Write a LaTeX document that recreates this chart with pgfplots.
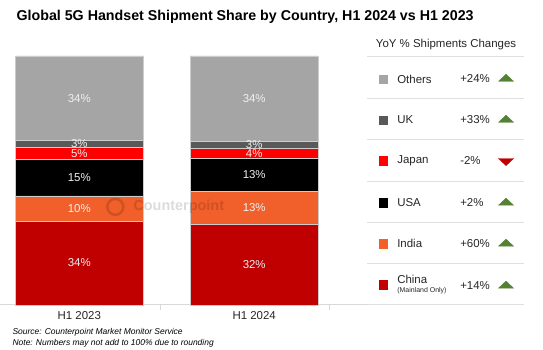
\documentclass[border=0pt]{standalone}
\usepackage{pgfplots}
\pgfplotsset{compat=1.18}
\usepackage{pgfplotstable}
\usepackage{fontspec}
\setmainfont{Liberation Sans}
\definecolor{cOthers}{HTML}{A5A5A5}
\definecolor{cUK}{HTML}{595959}
\definecolor{cJapan}{HTML}{FF0000}
\definecolor{cUSA}{HTML}{000000}
\definecolor{cIndia}{HTML}{F15F2A}
\definecolor{cChina}{HTML}{C00000}
\definecolor{cUp}{HTML}{548235}
\definecolor{cDown}{HTML}{C00000}
\definecolor{txt}{HTML}{262626}

\pgfplotstableread{
cat china india usa japan uk others
0 33.6 10.2 14.6 4.8 2.8 34.0
1 32.2 13.4 13.2 4.0 2.8 34.4
}\shares

\tikzset{lg/.style={font=\fontsize{11.5}{13}\selectfont, text=txt, inner sep=0pt}}

\begin{document}
\begin{tikzpicture}
\path (0bp,0bp) rectangle (543bp,-350bp);
\node[anchor=west, font=\bfseries\fontsize{14.3}{16}\selectfont, text=black, inner sep=0pt] at (16bp,-17bp) {Global 5G Handset Shipment Share by Country, H1 2024 vs H1 2023};
\begin{axis}[
  at={(0bp,-305bp)}, anchor=south west,
  scale only axis, width=505bp, height=249bp,
  xmin=-0.4514, xmax=2.4343, ymin=0, ymax=100,
  ybar stacked, bar width=128bp,
  axis x line=bottom, axis y line=none,
  x axis line style={-, draw=black!15, line width=0.8pt},
  xtick={0,1}, xticklabels={H1 2023,H1 2024}, major tick length=0pt,
  minor xtick={0.4629,1.4286}, minor tick length=5bp, tick align=outside,
  minor tick style={draw=black!15, line width=0.8pt},
  xticklabel style={font=\fontsize{11.5}{13}\selectfont, text=txt, yshift=-3bp},
  /pgf/number format/assume math mode=true,
  clip=false,
  seg/.style={visualization depends on={\thisrow{#1} \as \segval},
    nodes near coords={\pgfmathprintnumber[fixed,precision=0]{\segval}\%},
    every node near coord/.style={anchor=center, font=\fontsize{11.5}{13}\selectfont, text=white!94!black, inner sep=0pt}},
]
\addplot[fill=cChina, draw=white!80!black, line width=0.5pt, seg=china] table[x=cat,y=china]{\shares};
\addplot[fill=cIndia, draw=white!80!black, line width=0.5pt, seg=india] table[x=cat,y=india]{\shares};
\addplot[fill=cUSA, draw=white!80!black, line width=0.5pt, seg=usa] table[x=cat,y=usa]{\shares};
\addplot[fill=cJapan, draw=white!80!black, line width=0.5pt, seg=japan] table[x=cat,y=japan]{\shares};
\addplot[fill=cUK, draw=white!80!black, line width=0.5pt, seg=uk] table[x=cat,y=uk]{\shares};
\addplot[fill=cOthers, draw=white!80!black, line width=0.5pt, seg=others] table[x=cat,y=others]{\shares};
\end{axis}

\begin{axis}[
  at={(367bp,-305bp)}, anchor=south west,
  scale only axis, width=157bp, height=249bp,
  xmin=367, xmax=524, ymin=-305, ymax=-56,
  axis line style={draw=none},
  xtick=\empty, ytick={-305,-264,-222.7,-181.7,-140,-98.3,-56}, yticklabels={},
  major tick length=0pt, ymajorgrids,
  major grid style={draw=black!12, line width=0.8pt},
  clip=false,
]
\addplot[only marks, mark=square*, mark size=4.2bp, color=cOthers] coordinates {(383,-79)};
\addplot[only marks, mark=square*, mark size=4.2bp, color=cUK] coordinates {(383,-120)};
\addplot[only marks, mark=square*, mark size=4.2bp, color=cJapan] coordinates {(383,-161)};
\addplot[only marks, mark=square*, mark size=4.2bp, color=cUSA] coordinates {(383,-203)};
\addplot[only marks, mark=square*, mark size=4.2bp, color=cIndia] coordinates {(383,-244)};
\addplot[only marks, mark=square*, mark size=4.2bp, color=cChina] coordinates {(383,-285)};
\addplot[only marks, mark=triangle*, mark size=4.7bp, color=cUp, mark options={xscale=1.85}] coordinates {(506,-79) (506,-120) (506,-203) (506,-244) (506,-286)};
\addplot[only marks, mark=triangle*, mark size=4.7bp, color=cDown, mark options={xscale=1.85, rotate=180}] coordinates {(506,-161)};
\node[lg, anchor=center] at (axis cs:446,-45) {YoY \% Shipments Changes};
\node[lg, anchor=west] at (axis cs:397,-79) {Others};
\node[lg, anchor=west] at (axis cs:397,-120) {UK};
\node[lg, anchor=west] at (axis cs:397,-161) {Japan};
\node[lg, anchor=west] at (axis cs:397,-203) {USA};
\node[lg, anchor=west] at (axis cs:397,-244) {India};
\node[lg, anchor=west] at (axis cs:397,-280) {China};
\node[lg, anchor=west, font=\fontsize{7}{8}\selectfont] at (axis cs:397,-291) {(Mainland Only)};
\node[lg, anchor=west] at (axis cs:460,-79) {+24\%};
\node[lg, anchor=west] at (axis cs:460,-120) {+33\%};
\node[lg, anchor=west] at (axis cs:460,-161) {-2\%};
\node[lg, anchor=west] at (axis cs:460,-203) {+2\%};
\node[lg, anchor=west] at (axis cs:460,-244) {+60\%};
\node[lg, anchor=west] at (axis cs:460,-286) {+14\%};
\end{axis}

\node[circle, draw=black, line width=2.5bp, minimum size=16bp, opacity=0.14, inner sep=0pt] at (115bp,-207bp) {};
\node[anchor=west, font=\bfseries\fontsize{14.5}{16}\selectfont, text=black, opacity=0.14, inner sep=0pt] at (133bp,-207bp) {Counterpoint};

\node[anchor=west, font=\itshape\fontsize{8.5}{10}\selectfont, text=black, inner sep=0pt] at (12bp,-333bp) {Source: Counterpoint Market Monitor Service};
\node[anchor=west, font=\itshape\fontsize{8.5}{10}\selectfont, text=black, inner sep=0pt] at (12bp,-344bp) {Note: Numbers may not add to 100\% due to rounding};
\end{tikzpicture}
\end{document}
